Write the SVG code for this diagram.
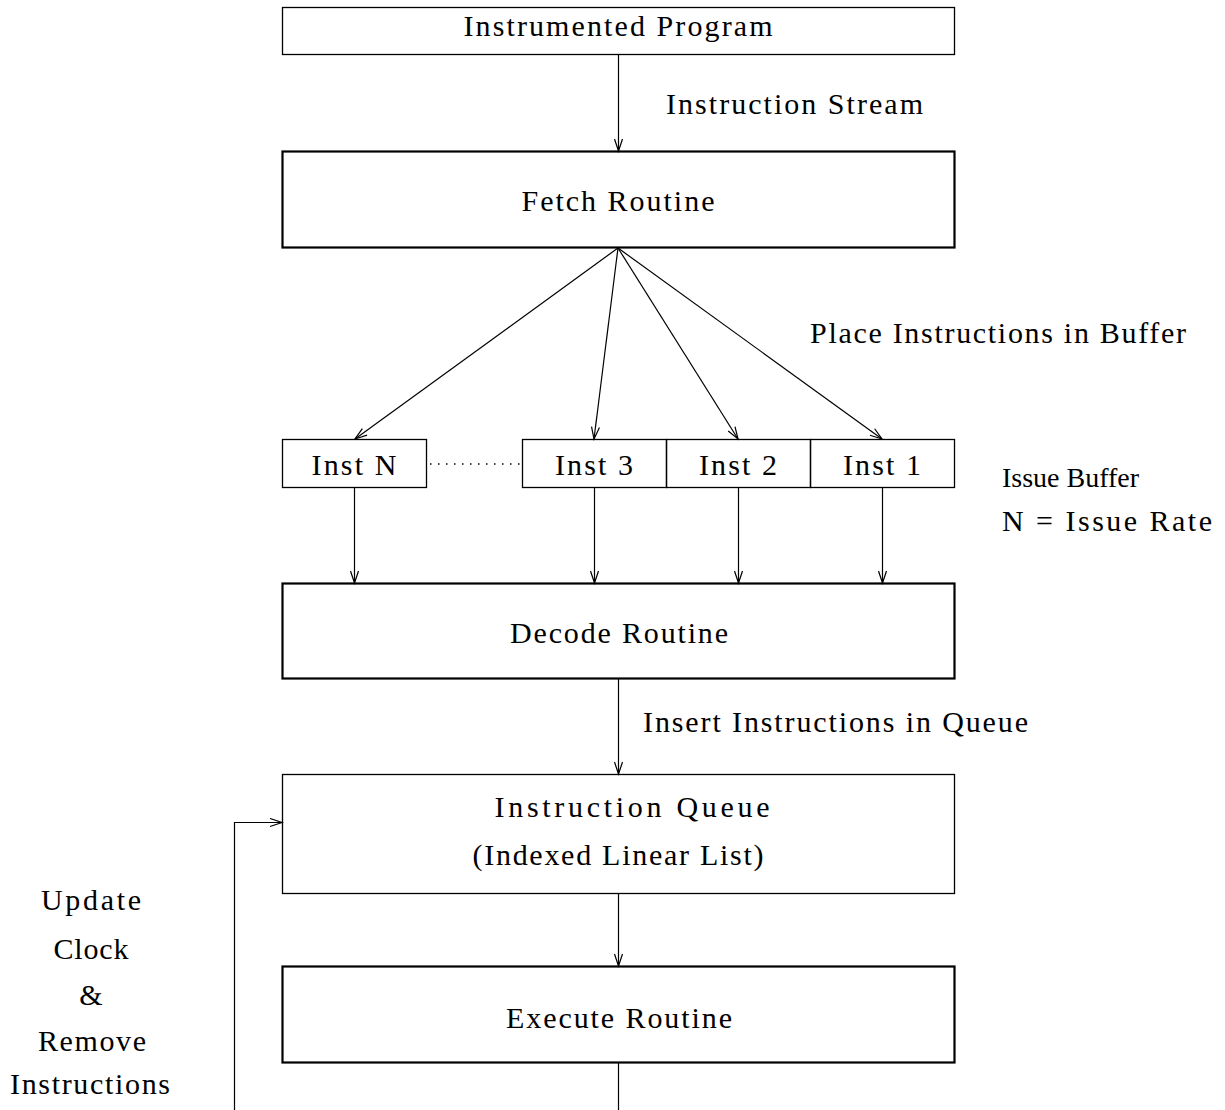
<svg xmlns="http://www.w3.org/2000/svg" width="1225" height="1110" viewBox="0 0 1225 1110">
  <style>
    .bg { fill: #ffffff; }
    .thin { fill: none; stroke: #000; stroke-width: 1.3; }
    .thick { fill: none; stroke: #000; stroke-width: 2.2; }
    .line { fill: none; stroke: #000; stroke-width: 1.2; }
    .dots { fill: none; stroke: #000; stroke-width: 1.5; stroke-dasharray: 1.5 6.5; }
    text { font-family: "Liberation Serif", "DejaVu Serif", serif; font-size: 30px; fill: #000; }
    .c { text-anchor: middle; }
    .small { font-size: 28px; }
  </style>
  <defs>
    <marker id="arrow" markerUnits="userSpaceOnUse" markerWidth="16" markerHeight="12" refX="13" refY="5" orient="auto">
      <path d="M1,1 L13,5 L1,9" fill="none" stroke="#000" stroke-width="1.2"/>
    </marker>
  </defs>
  <rect class="bg" x="0" y="0" width="1225" height="1110"/>

  <g id="instrumented-program">
    <rect class="thin" x="282.5" y="7.5" width="672" height="47"/>
    <text class="c" x="618" y="36" textLength="309" lengthAdjust="spacing">Instrumented Program</text>
  </g>

  <g id="fetch-routine">
    <rect class="thick" x="282.5" y="151.5" width="672" height="96"/>
    <text class="c" x="618" y="211" textLength="193" lengthAdjust="spacing">Fetch Routine</text>
  </g>

  <g id="issue-buffer">
    <rect class="thin" x="282.5" y="439.5" width="144" height="48"/>
    <text class="c" x="354" y="475" textLength="85" lengthAdjust="spacing">Inst N</text>
    <rect class="thin" x="522.5" y="439.5" width="144" height="48"/>
    <text class="c" x="594" y="475" textLength="78" lengthAdjust="spacing">Inst 3</text>
    <rect class="thin" x="666.5" y="439.5" width="144" height="48"/>
    <text class="c" x="738" y="475" textLength="78" lengthAdjust="spacing">Inst 2</text>
    <rect class="thin" x="810.5" y="439.5" width="144" height="48"/>
    <text class="c" x="882" y="475" textLength="78" lengthAdjust="spacing">Inst 1</text>
    <line class="dots" x1="430" y1="464" x2="522" y2="464"/>
  </g>

  <g id="decode-routine">
    <rect class="thick" x="282.5" y="583.5" width="672" height="95"/>
    <text class="c" x="619" y="643" textLength="218" lengthAdjust="spacing">Decode Routine</text>
  </g>

  <g id="instruction-queue">
    <rect class="thin" x="282.5" y="774.5" width="672" height="119"/>
    <text class="c" x="632" y="817" textLength="275" lengthAdjust="spacing">Instruction Queue</text>
    <text class="c" x="618" y="865" textLength="291" lengthAdjust="spacing">(Indexed Linear List)</text>
  </g>

  <g id="execute-routine">
    <rect class="thick" x="282.5" y="966.5" width="672" height="96"/>
    <text class="c" x="619" y="1028" textLength="226" lengthAdjust="spacing">Execute Routine</text>
  </g>

  <g id="connectors">
    <line class="line" x1="618.5" y1="55" x2="618.5" y2="151" marker-end="url(#arrow)"/>
    <line class="line" x1="618" y1="248" x2="355" y2="439" marker-end="url(#arrow)"/>
    <line class="line" x1="618" y1="248" x2="594" y2="439" marker-end="url(#arrow)"/>
    <line class="line" x1="618" y1="248" x2="738" y2="439" marker-end="url(#arrow)"/>
    <line class="line" x1="618" y1="248" x2="882" y2="439" marker-end="url(#arrow)"/>
    <line class="line" x1="354.5" y1="488" x2="354.5" y2="583" marker-end="url(#arrow)"/>
    <line class="line" x1="594.5" y1="488" x2="594.5" y2="583" marker-end="url(#arrow)"/>
    <line class="line" x1="738.5" y1="488" x2="738.5" y2="583" marker-end="url(#arrow)"/>
    <line class="line" x1="882.5" y1="488" x2="882.5" y2="583" marker-end="url(#arrow)"/>
    <line class="line" x1="618.5" y1="679" x2="618.5" y2="774" marker-end="url(#arrow)"/>
    <line class="line" x1="618.5" y1="894" x2="618.5" y2="966" marker-end="url(#arrow)"/>
    <line class="line" x1="618.5" y1="1063" x2="618.5" y2="1110"/>
    <polyline class="line" points="234.5,1110 234.5,822.5 282,822.5" marker-end="url(#arrow)"/>
  </g>

  <g id="labels">
    <text x="666" y="114" textLength="257" lengthAdjust="spacing">Instruction Stream</text>
    <text x="810" y="343" textLength="376" lengthAdjust="spacing">Place Instructions in Buffer</text>
    <text class="small" x="1002" y="487">Issue Buffer</text>
    <text x="1002" y="531" textLength="210" lengthAdjust="spacing">N = Issue Rate</text>
    <text x="643" y="732" textLength="385" lengthAdjust="spacing">Insert Instructions in Queue</text>
    <text class="c" x="91" y="910" textLength="100" lengthAdjust="spacing">Update</text>
    <text class="c" x="91" y="959" textLength="75" lengthAdjust="spacing">Clock</text>
    <text class="c" x="91" y="1005">&amp;</text>
    <text class="c" x="92" y="1051" textLength="108" lengthAdjust="spacing">Remove</text>
    <text class="c" x="90" y="1094" textLength="160" lengthAdjust="spacing">Instructions</text>
  </g>
</svg>
